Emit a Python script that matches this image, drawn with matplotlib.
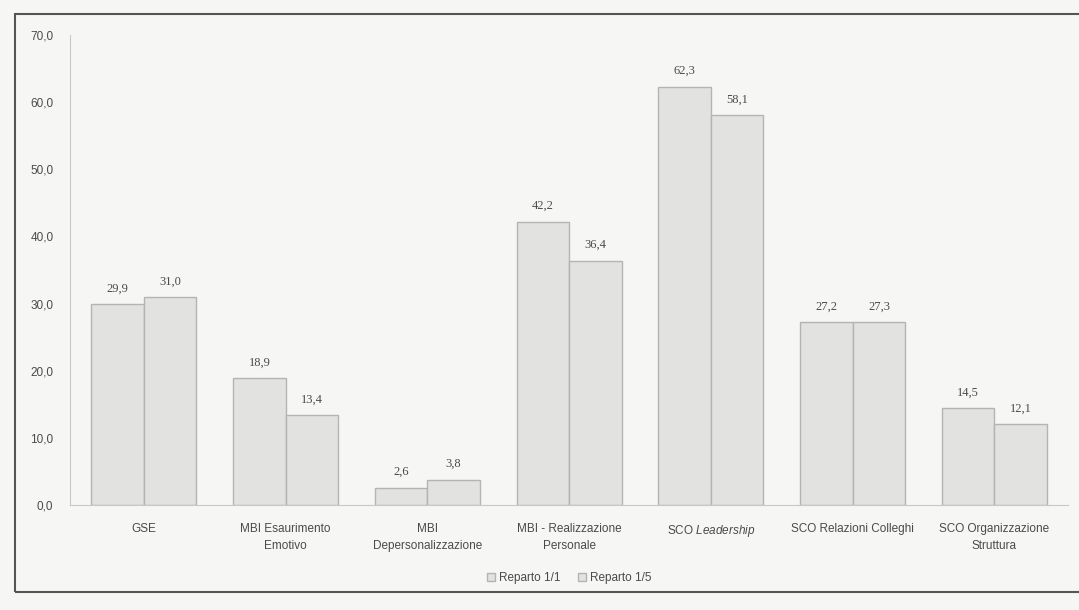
import matplotlib
matplotlib.use("Agg")
import matplotlib.pyplot as plt
from matplotlib.patches import Rectangle
import numpy as np

plt.rcParams["font.family"] = "Liberation Sans"
plt.rcParams["mathtext.fontset"] = "custom"
plt.rcParams["mathtext.it"] = "Liberation Sans:italic"
plt.rcParams["mathtext.rm"] = "Liberation Sans"

categories = [
    "GSE",
    "MBI Esaurimento\nEmotivo",
    "MBI\nDepersonalizzazione",
    "MBI - Realizzazione\nPersonale",
    "SCO $\\it{Leadership}$",
    "SCO Relazioni Colleghi",
    "SCO Organizzazione\nStruttura",
]
reparto_11 = [29.9, 18.9, 2.6, 42.2, 62.3, 27.2, 14.5]
reparto_15 = [31.0, 13.4, 3.8, 36.4, 58.1, 27.3, 12.1]
series_names = ["Reparto 1/1", "Reparto 1/5"]
y_ticks = [0, 10, 20, 30, 40, 50, 60, 70]

bg = "#f6f7f4"
fill = "#e2e3e1"
edge = "#b4b5b3"
text_col = "#4a4a4a"

fig = plt.figure(figsize=(10.79, 6.10), dpi=100, facecolor=bg)
ax = fig.add_axes([0.065, 0.172, 0.925, 0.771], facecolor=bg)

x = np.arange(len(categories))
w = 0.37
b1 = ax.bar(x - w / 2, reparto_11, w, color=fill, edgecolor=edge, linewidth=1.0,
            label=series_names[0])
b2 = ax.bar(x + w / 2, reparto_15, w, color=fill, edgecolor=edge, linewidth=1.0,
            label=series_names[1])

for bars, vals in ((b1, reparto_11), (b2, reparto_15)):
    for rect, v in zip(bars, vals):
        ax.text(rect.get_x() + rect.get_width() / 2, v + 1.4,
                f"{v:.1f}".replace(".", ","), ha="center", va="bottom",
                fontsize=9, color=text_col, family="Liberation Serif")

ax.set_xlim(-0.52, len(categories) - 0.48)
ax.set_ylim(0, 70)
ax.set_yticks(y_ticks)
ax.set_yticklabels([f"{t:.1f}".replace(".", ",") for t in y_ticks],
                   fontsize=8.5, color=text_col)
ax.set_xticks(x)
ax.set_xticklabels(categories, fontsize=8.5, color=text_col, linespacing=1.5)
ax.tick_params(axis="x", length=0, pad=13)
ax.tick_params(axis="y", length=0, pad=12)

for s in ("top", "right"):
    ax.spines[s].set_visible(False)
ax.spines["left"].set_color("#c8c8c8")
ax.spines["bottom"].set_color("#c8c8c8")

ax.legend(loc="upper center", bbox_to_anchor=(0.5, -0.12), ncol=2, frameon=False,
          fontsize=8.5, handlelength=0.7, handleheight=0.7, handletextpad=0.3,
          columnspacing=1.5, labelcolor=text_col)

# chart frame
fig.patches.append(Rectangle((0.014, 0.03), 1.2, 0.947, transform=fig.transFigure,
                             fill=False, edgecolor="#555555", linewidth=1.5))

fig.savefig("out.png", dpi=100, facecolor=bg)
